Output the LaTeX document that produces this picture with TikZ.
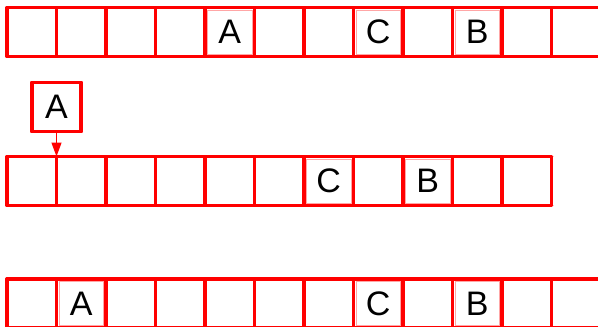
\documentclass[tikz,border=0pt]{standalone}
\usepackage{fontspec}
\setmainfont{Liberation Sans}
\usetikzlibrary{arrows.meta}
\tikzset{
  cellbox/.style={draw=red, line width=3.8pt, line join=round, minimum width=49.5pt, minimum height=49pt,
    inner sep=0pt, outer sep=0pt, anchor=north west, font=\fontsize{34}{34}\selectfont},
  inset/.style={draw=red!35, line width=0.7pt},
  edge/.style={draw=red, line width=3.8pt, line cap=round},
  link/.style={draw=red, line width=1.3pt, -{Triangle[length=14pt,width=10pt]}}
}
\newcommand{\markcell}[1]{\draw[inset] ([shift={(2.6,2.6)}]#1.north west) rectangle ([shift={(-2.6,-2.6)}]#1.south east);}
\begin{document}
\begin{tikzpicture}[x=1pt,y=-1pt]
\useasboundingbox (0,0) rectangle (598,327);
\clip (0,0) rectangle (598,327);
% row 1 (12 cells)
\foreach \i/\t in {1/,2/,3/,4/,5/A,6/,7/,8/C,9/,10/B,11/,12/}{
  \node[cellbox] (r1c\i) at ({7+49.5*(\i-1)},7.5) {\t};
}
\draw[edge] (r1c1.north west) -- (r1c12.north east);
\draw[edge] (r1c1.south west) -- (r1c12.south east);
\markcell{r1c5}\markcell{r1c8}\markcell{r1c10}
% row 2 (11 cells)
\foreach \i/\t in {1/,2/,3/,4/,5/,6/,7/C,8/,9/B,10/,11/}{
  \node[cellbox] (r2c\i) at ({7+49.5*(\i-1)},156.5) {\t};
}
\draw[edge] (r2c1.north west) -- (r2c11.north east);
\draw[edge] (r2c1.south west) -- (r2c11.south east);
\markcell{r2c7}\markcell{r2c9}
% row 3 (12 cells)
\foreach \i/\t in {1/,2/A,3/,4/,5/,6/,7/,8/C,9/,10/B,11/,12/}{
  \node[cellbox] (r3c\i) at ({7+49.5*(\i-1)},279) {\t};
}
\draw[edge] (r3c1.north west) -- (r3c12.north east);
\markcell{r3c2}\markcell{r3c8}\markcell{r3c10}
% moving element
\node[cellbox, anchor=center] (boxA) at (56.5,107) {A};
\draw[link] (boxA.south) -- (r2c1.north east);
\end{tikzpicture}
\end{document}
